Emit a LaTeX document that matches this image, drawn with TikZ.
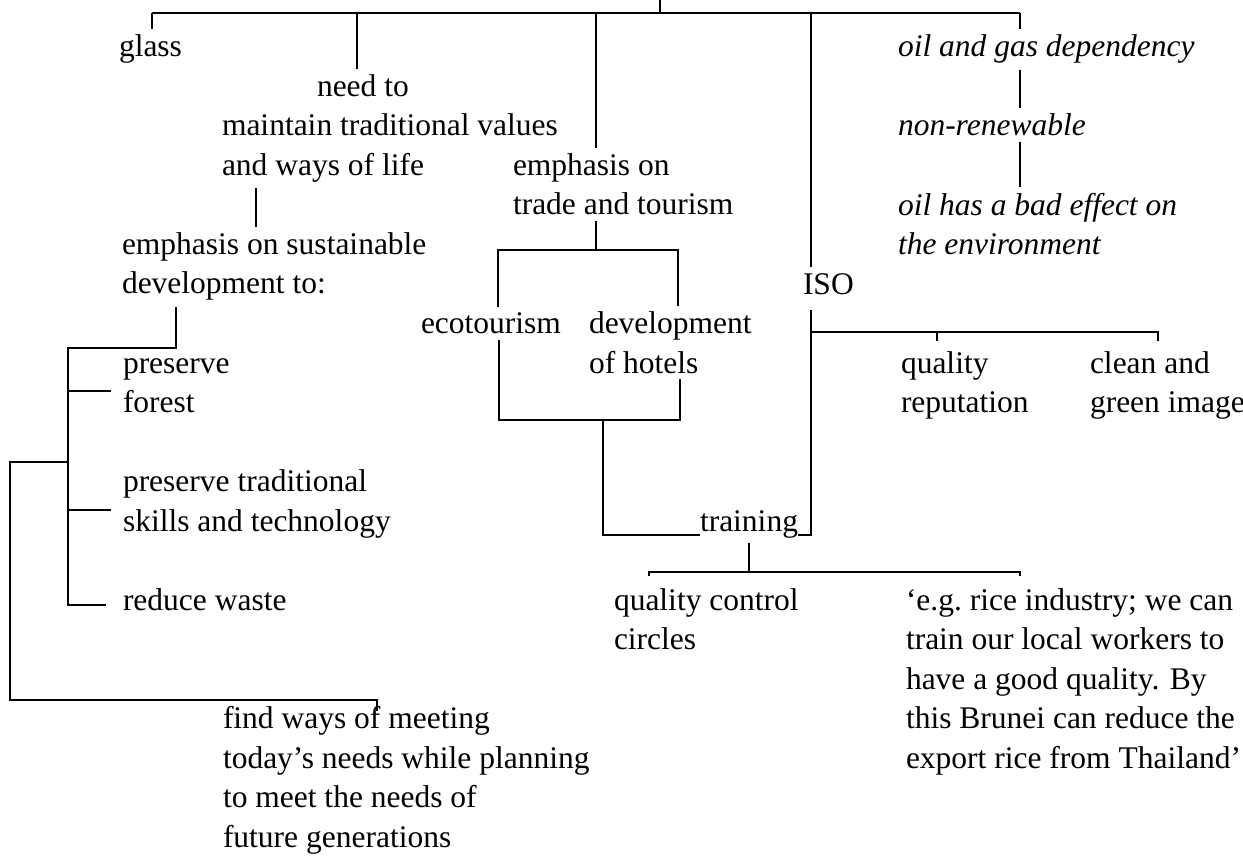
\documentclass[tikz,border=0pt]{standalone}
\usepackage{fontspec}
\setmainfont{Liberation Serif}
\newcommand\txtsize{\fontsize{31.5}{39.5}\selectfont}
% several left-aligned lines whose baseline is that of the first line
\newcommand\lines[1]{\vtop{\let\\\cr\halign{##\hfil\cr#1\crcr}}}
\begin{document}
\begin{tikzpicture}[x=1pt,y=-1pt,
  lbl/.style={anchor=base west, inner sep=0pt, outer sep=6pt, font=\txtsize},
  ital/.style={lbl, font=\txtsize\itshape},
  ln/.style={line width=2.2pt, black}]
\fill[white] (0,0) rectangle (1243,864);
\useasboundingbox (0,0) rectangle (1243,864);

% ---------- labels ----------
\node[lbl] (glass) at (113,57) {glass};
\node[lbl] (needto) at (311,96.5) {need to};
\node[lbl] (values) at (216,136) {\lines{maintain traditional values\\and ways of life}};
\node[lbl] (emph) at (507,175.5) {\lines{emphasis on\\trade and tourism}};
\node[ital] (oil) at (892,57) {oil and gas dependency};
\node[ital] (nonren) at (892,136) {non-renewable};
\node[ital] (oileff) at (892,215) {\lines{oil has a bad effect on\\the environment}};
\node[lbl] (sust) at (116,254.5) {\lines{emphasis on sustainable\\development to:}};
\node[lbl] (iso) at (797,294) {ISO};
\node[lbl] (eco) at (415,333.5) {ecotourism};
\node[lbl] (hotels) at (583,333.5) {\lines{development\\of hotels}};
\node[lbl] (qrep) at (895,373) {\lines{quality\\reputation}};
\node[lbl] (clean) at (1084,373) {\lines{clean and\\green image}};
\node[lbl] (forest) at (117,373) {\lines{preserve\\forest}};
\node[lbl] (skills) at (117,491.5) {\lines{preserve traditional\\skills and technology}};
\node[lbl, outer sep=0pt] (training) at (700,531) {training};
\node[lbl] (waste) at (117,610) {reduce waste};
\node[lbl] (qcc) at (608,610) {\lines{quality control\\circles}};
\node[lbl] (rice) at (900,610) {\lines{‘e.g.\ rice industry; we can\\train our local workers to\\have a good quality.  By\\this Brunei can reduce the\\export rice from Thailand’}};
\node[lbl] (future) at (217,728.5) {\lines{find ways of meeting\\today’s needs while planning\\to meet the needs of\\future generations}};

% ---------- junction points ----------
\coordinate (root) at (660,0);
\coordinate (rootJ) at (660,13);
\coordinate (tGlass) at (152,13);
\coordinate (tNeed) at (357,13);
\coordinate (tEmph) at (596,13);
\coordinate (tIso) at (811,13);
\coordinate (tOil) at (1020,13);

\coordinate (xAnd) at (256,0);
\coordinate (sustJ) at (176,348);
\coordinate (trunkTop) at (68,348);
\coordinate (trunkBot) at (68,605);
\coordinate (tickA) at (68,391);
\coordinate (tickB) at (68,510);
\coordinate (loopA) at (68,462);
\coordinate (loopB) at (10,462);
\coordinate (loopC) at (10,700);
\coordinate (loopD) at (377,700);
\coordinate (findTick) at (377,711);

\coordinate (tradeJ) at (596,250);
\coordinate (ecoJ) at (498,250);
\coordinate (hotJ) at (678,250);
\coordinate (ecoB) at (499,420);
\coordinate (hotB) at (680,420);
\coordinate (midB) at (603,420);
\coordinate (trainL) at (603,535);
\coordinate (isoB) at (811,535);

\coordinate (isoJ) at (811,332);
\coordinate (qJ) at (937,332);
\coordinate (cJ) at (1158,332);

\coordinate (trJ) at (749,572);
\coordinate (qcJ) at (649,572);
\coordinate (riceJ) at (1020,572);

% ---------- connectors ----------
\draw[ln] (root) -- (rootJ);
\draw[ln] (tGlass) -- (tOil);
\draw[ln] (tGlass) -- (tGlass |- glass.north);
\draw[ln] (tNeed) -- (tNeed |- needto.north);
\draw[ln] (tEmph) -- (tEmph |- emph.north);
\draw[ln] (tIso) -- (tIso |- iso.north);
\draw[ln] (tOil) -- (tOil |- oil.north);

% oil chain
\draw[ln] (tOil |- oil.south) -- (tOil |- nonren.north);
\draw[ln] (tOil |- nonren.south) -- (tOil |- oileff.north);

% traditional values -> sustainable development
\draw[ln] (xAnd |- values.south) -- (xAnd |- sust.north);
\draw[ln, shorten >=11pt] (sustJ |- sust.south) -- (sustJ) -- (trunkTop) -- (trunkBot) -- (trunkBot -| waste.west);
\draw[ln, shorten >=6pt] (tickA) -- (tickA -| forest.west);
\draw[ln, shorten >=6pt] (tickB) -- (tickB -| skills.west);
\draw[ln] (loopA) -- (loopB) -- (loopC) -- (loopD) -- (findTick);

% trade and tourism
\draw[ln] (tradeJ |- emph.south) -- (tradeJ);
\draw[ln] (ecoJ |- eco.north) -- (ecoJ) -- (hotJ) -- (hotJ |- hotels.north);
\draw[ln] (ecoB |- eco.south) -- (ecoB) -- (hotB) -- (hotB |- hotels.south);
\draw[ln] (midB) -- (trainL) -- (trainL -| training.west);

% ISO
\draw[ln, shorten >=10pt] (training.east |- isoB) -- (isoB) -- (isoB |- iso.south);
\draw[ln, shorten >=4pt] (isoJ) -- (cJ) -- (cJ |- clean.north);
\draw[ln, shorten >=4pt] (qJ) -- (qJ |- qrep.north);

% training
\draw[ln, shorten <=5pt] (trJ |- training.south) -- (trJ);
\draw[ln, shorten <=6pt, shorten >=6pt] (qcJ |- qcc.north) -- (qcJ) -- (riceJ) -- (riceJ |- rice.north);
\end{tikzpicture}
\end{document}
